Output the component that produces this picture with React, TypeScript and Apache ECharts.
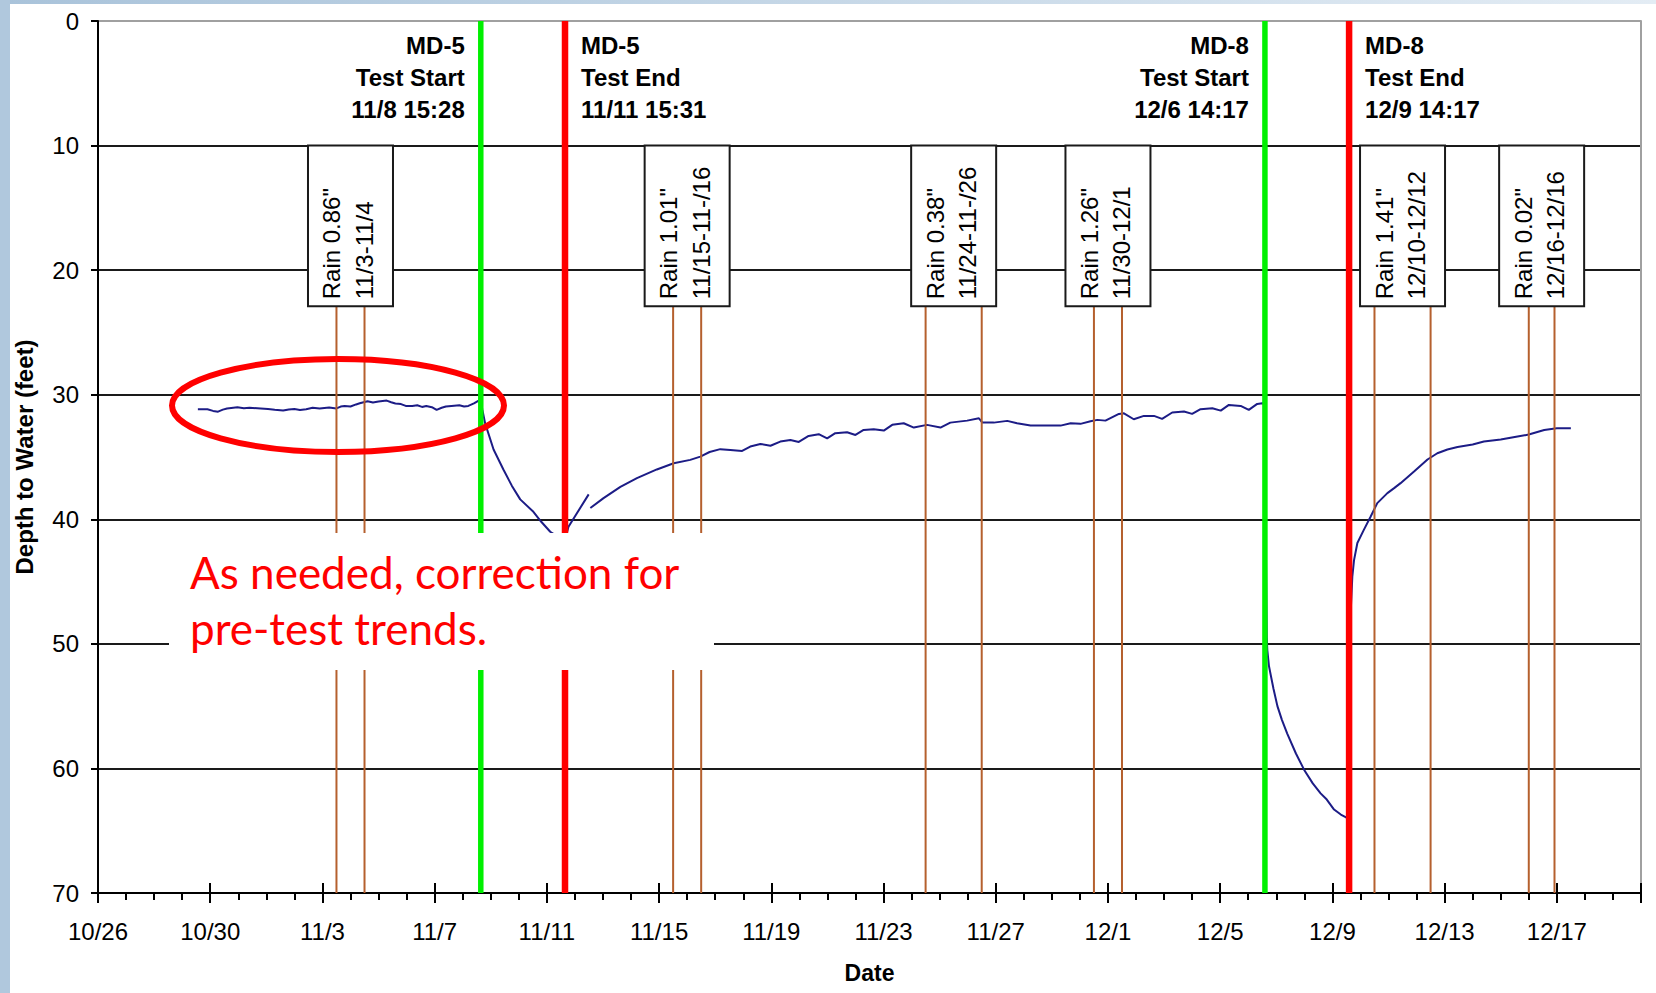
import React, { useEffect, useRef } from "react";
import * as echarts from "echarts";

// Hydrograph of depth to water during the MD-5 and MD-8 pumping tests.
// Time is expressed in days elapsed since 10/26 (midnight).

const START_UTC = Date.UTC(2010, 9, 26);
const toDay = (stamp: string): number => {
  const [md, hm = "0:00"] = stamp.split(" ");
  const [m, d] = md.split("/").map(Number);
  const [h, mi] = hm.split(":").map(Number);
  return (Date.UTC(2010, m - 1, d, h, mi) - START_UTC) / 86400000;
};
const dayLabel = (v: number): string => {
  const dt = new Date(START_UTC + Math.round(v) * 86400000);
  return `${dt.getUTCMonth() + 1}/${dt.getUTCDate()}`;
};

// Axis ranges
const DAY_MIN = 0; // 10/26
const DAY_MAX = 55; // 12/20
const DAY_TICK = 4;
const DEPTH_MIN = 0;
const DEPTH_MAX = 70;
const DEPTH_TICK = 10;

// Rain annotation box spans these depths
const RAIN_BOX_TOP = 10;
const RAIN_BOX_BOTTOM = 22.9;

// Background (pre-test) readings before MD-5 pumping
const md5Background: [number, number][] = [
  [3.56, 31.17], [3.9, 31.17], [4.1, 31.3], [4.28, 31.36], [4.45, 31.2], [4.6, 31.1],
  [4.97, 31.01], [5.2, 31.08], [5.4, 31.05], [5.8, 31.1], [6.06, 31.14], [6.3, 31.2],
  [6.6, 31.27], [6.8, 31.18], [7.0, 31.15], [7.2, 31.22], [7.42, 31.17], [7.65, 31.05],
  [7.9, 31.1], [8.24, 31.03], [8.5, 31.1], [8.65, 30.95], [8.79, 30.9], [9.0, 30.95],
  [9.2, 30.78], [9.33, 30.69], [9.61, 30.52], [9.8, 30.62], [10.0, 30.55], [10.29, 30.47],
  [10.45, 30.6], [10.6, 30.7], [10.8, 30.75], [10.97, 30.9], [11.2, 30.9], [11.38, 30.85],
  [11.55, 30.98], [11.7, 30.9], [11.9, 31.0], [12.07, 31.22], [12.25, 31.05], [12.4, 30.95],
  [12.6, 30.9], [12.88, 30.85], [13.05, 30.95], [13.2, 30.9], [13.4, 30.7], [13.57, 30.47],
  [13.64, 30.45],
];

// Drawdown while MD-5 was pumped
const md5Drawdown: [number, number][] = [
  [13.7, 31.2], [13.8, 32.3], [14.1, 34.4], [14.45, 36.0], [14.75, 37.3],
  [15.05, 38.4], [15.52, 39.4], [15.8, 40.2], [16.12, 41.0], [16.4, 41.4],
  [16.64, 41.7],
];

// Recovery after MD-5 test end (logger restarted at 11/12)
const md5Recovery: [number, number | null][] = [
  [16.77, 40.6], [17.49, 38.0], [17.52, null],
  [17.55, 39.1], [18.02, 38.3], [18.62, 37.4], [19.21, 36.7], [19.92, 36.0],
  [20.52, 35.5], [21.11, 35.23], [21.47, 34.97], [21.8, 34.6], [22.18, 34.37],
  [22.54, 34.43], [22.96, 34.51], [23.25, 34.16], [23.61, 33.95], [23.97, 34.1],
  [24.32, 33.76], [24.68, 33.63], [24.98, 33.79], [25.33, 33.31], [25.69, 33.17],
  [25.99, 33.5], [26.28, 33.09], [26.7, 33.01], [27.0, 33.23], [27.29, 32.83],
  [27.65, 32.77], [28.01, 32.88], [28.31, 32.42], [28.72, 32.29], [29.08, 32.64],
  [29.55, 32.42], [30.03, 32.64], [30.38, 32.24], [30.98, 32.08], [31.4, 31.89],
  [31.52, 32.24], [31.93, 32.24], [32.41, 32.1], [32.76, 32.29], [33.24, 32.48],
  [33.83, 32.48], [34.31, 32.48], [34.67, 32.29], [35.02, 32.34], [35.38, 32.13],
  [35.62, 32.02], [35.91, 32.08], [36.39, 31.54], [36.57, 31.49], [36.92, 31.97],
  [37.28, 31.7], [37.64, 31.7], [37.93, 31.94], [38.29, 31.43], [38.71, 31.35],
  [39.0, 31.54], [39.3, 31.16], [39.72, 31.08], [40.02, 31.28], [40.31, 30.82],
  [40.73, 30.9], [41.02, 31.22], [41.32, 30.74], [41.5, 30.68], [41.6, 30.7],
];

// Drawdown while MD-8 was pumped
const md8Drawdown: [number, number][] = [
  [41.62, 40.0], [41.66, 49.5], [41.68, 50.5], [41.74, 51.8], [41.9, 53.6],
  [42.04, 55.0], [42.2, 56.1], [42.39, 57.2], [42.7, 58.8], [42.99, 60.1],
  [43.3, 61.2], [43.58, 62.0], [43.8, 62.5], [44.06, 63.3], [44.3, 63.7],
  [44.47, 63.9], [44.55, 64.0],
];

// Recovery after MD-8 test end
const md8Recovery: [number, number][] = [
  [44.64, 48.0], [44.71, 44.6], [44.77, 43.3], [44.89, 41.9], [45.12, 40.85],
  [45.36, 39.8], [45.6, 38.7], [45.96, 37.9], [46.2, 37.5], [46.43, 37.1],
  [46.91, 36.17], [47.39, 35.2], [47.74, 34.7], [48.1, 34.4], [48.46, 34.2],
  [49.0, 34.0], [49.4, 33.76], [50.0, 33.6], [50.6, 33.36], [51.0, 33.2],
  [51.55, 32.83], [52.0, 32.7], [52.5, 32.69],
];

// Pumping test start / end markers
const testEvents = [
  { well: "MD-5", kind: "Test Start", stamp: "11/8 15:28" },
  { well: "MD-5", kind: "Test End", stamp: "11/11 15:31" },
  { well: "MD-8", kind: "Test Start", stamp: "12/6 14:17" },
  { well: "MD-8", kind: "Test End", stamp: "12/9 14:17" },
];

// Rain events: total inches and the period the rain fell
const rainEvents = [
  { inches: "0.86", range: "11/3-11/4", from: "11/3 12:00", to: "11/4 12:00" },
  { inches: "1.01", range: "11/15-11-/16", from: "11/15 12:00", to: "11/16 12:00" },
  { inches: "0.38", range: "11/24-11-/26", from: "11/24 12:00", to: "11/26 12:00" },
  { inches: "1.26", range: "11/30-12/1", from: "11/30 12:00", to: "12/1 12:00" },
  { inches: "1.41", range: "12/10-12/12", from: "12/10 12:00", to: "12/12 12:00" },
  { inches: "0.02", range: "12/16-12/16", from: "12/16 0:00", to: "12/16 22:00" },
];

const noteLines = ["As needed, correction for", "pre-test trends."];

const FONT = '"Liberation Sans", Arial, sans-serif';
const NOTE_FONT = '44px Lato, "Open Sans", sans-serif';
const GREEN = "#00f000";
const RED = "#ff0000";
const BROWN = "#b5602e";
const GRID_BLACK = "#1a1a1a";

export default function App() {
  const ref = useRef<HTMLDivElement>(null);

  useEffect(() => {
    if (!ref.current) return;
    const chart = echarts.init(ref.current, undefined, { renderer: "svg" });

    const hydrograph = [
      ...md5Background,
      ...md5Drawdown,
      ...md5Recovery,
      ...md8Drawdown,
      ...md8Recovery,
    ];

    const depthTickCount = (DEPTH_MAX - DEPTH_MIN) / DEPTH_TICK + 1;
    const splitColors = Array.from({ length: depthTickCount }, (_, i) =>
      i === 0 ? "#a0a0a0" : GRID_BLACK
    );

    const xBase = {
      type: "value" as const,
      min: DAY_MIN,
      max: DAY_MAX,
      interval: DAY_TICK,
      position: "bottom" as const,
      splitLine: { show: false },
    };

    chart.setOption({
      animation: false,
      textStyle: { fontFamily: FONT },
      grid: { left: 98, top: 21, right: 15, bottom: 100, containLabel: false },
      xAxis: [
        {
          ...xBase,
          name: "Date",
          nameLocation: "middle",
          nameGap: 68,
          nameTextStyle: { fontSize: 23, fontWeight: "bold", color: "#000", fontFamily: FONT },
          axisLine: { onZero: false, lineStyle: { color: "#000", width: 2 } },
          axisTick: { show: true, length: 10, lineStyle: { color: "#000", width: 2 } },
          minorTick: { show: true, splitNumber: 4, length: 7, lineStyle: { color: "#000", width: 2 } },
          axisLabel: {
            fontSize: 24,
            color: "#000",
            margin: 26,
            fontFamily: FONT,
            formatter: (v: number) => dayLabel(v),
            showMaxLabel: false,
          },
        },
        {
          ...xBase,
          axisLine: { show: false, onZero: false },
          axisTick: { show: true, inside: true, length: 10, lineStyle: { color: "#000", width: 2 } },
          axisLabel: { show: false },
        },
      ],
      yAxis: [
        {
          type: "value",
          min: DEPTH_MIN,
          max: DEPTH_MAX,
          interval: DEPTH_TICK,
          inverse: true,
          name: "Depth to Water (feet)",
          nameLocation: "middle",
          nameGap: 62,
          nameTextStyle: { fontSize: 24, fontWeight: "bold", color: "#000", fontFamily: FONT },
          axisLine: { show: true, onZero: false, lineStyle: { color: "#000", width: 2 } },
          axisTick: { show: true, length: 7, lineStyle: { color: "#000", width: 2 } },
          axisLabel: { fontSize: 24, color: "#000", margin: 19, fontFamily: FONT },
          splitLine: { show: true, lineStyle: { color: splitColors, width: 2 } },
        },
        {
          type: "value",
          min: DEPTH_MIN,
          max: DEPTH_MAX,
          interval: DEPTH_TICK,
          inverse: true,
          position: "right",
          axisLine: { show: true, onZero: false, lineStyle: { color: "#a0a0a0", width: 2 } },
          axisTick: { show: false },
          axisLabel: { show: false },
          splitLine: { show: false },
        },
      ],
      series: [
        {
          name: "Depth to Water",
          type: "line",
          xAxisIndex: 0,
          yAxisIndex: 0,
          data: hydrograph,
          showSymbol: false,
          connectNulls: false,
          lineStyle: { color: "#1c1c86", width: 2 },
          z: 2,
        },
        {
          name: "Rain",
          type: "custom",
          xAxisIndex: 0,
          yAxisIndex: 0,
          z: 3,
          data: rainEvents.map((e) => [(toDay(e.from) + toDay(e.to)) / 2, RAIN_BOX_TOP]),
          renderItem: (params: any, api: any) => {
            const ev = rainEvents[params.dataIndex];
            const from = toDay(ev.from);
            const to = toDay(ev.to);
            const mid = (from + to) / 2;
            const [cx, yTop] = api.coord([mid, RAIN_BOX_TOP]);
            const yBot = api.coord([mid, RAIN_BOX_BOTTOM])[1];
            const yEnd = api.coord([mid, DEPTH_MAX])[1];
            const x1 = api.coord([from, DEPTH_MAX])[0];
            const x2 = api.coord([to, DEPTH_MAX])[0];
            const font = `24px ${FONT}`;
            return {
              type: "group",
              children: [
                { type: "line", shape: { x1, y1: yBot, x2: x1, y2: yEnd }, style: { stroke: BROWN, lineWidth: 2 } },
                { type: "line", shape: { x1: x2, y1: yBot, x2, y2: yEnd }, style: { stroke: BROWN, lineWidth: 2 } },
                {
                  type: "rect",
                  shape: { x: cx - 42.5, y: yTop, width: 85, height: yBot - yTop },
                  style: { fill: "#fff", stroke: GRID_BLACK, lineWidth: 2 },
                },
                {
                  type: "text",
                  x: cx - 18.5,
                  y: yBot - 7,
                  rotation: Math.PI / 2,
                  style: { text: `Rain ${ev.inches}"`, align: "left", verticalAlign: "middle", font, fill: "#000" },
                },
                {
                  type: "text",
                  x: cx + 14,
                  y: yBot - 7,
                  rotation: Math.PI / 2,
                  style: { text: ev.range, align: "left", verticalAlign: "middle", font, fill: "#000" },
                },
              ],
            };
          },
        },
        {
          name: "Tests",
          type: "custom",
          xAxisIndex: 0,
          yAxisIndex: 0,
          z: 4,
          data: testEvents.map((e) => [toDay(e.stamp), DEPTH_MIN]),
          renderItem: (params: any, api: any) => {
            const ev = testEvents[params.dataIndex];
            const d = toDay(ev.stamp);
            const [x, y0] = api.coord([d, DEPTH_MIN]);
            const y1 = api.coord([d, DEPTH_MAX])[1];
            const isStart = ev.kind === "Test Start";
            return {
              type: "group",
              children: [
                {
                  type: "line",
                  shape: { x1: x, y1: y0, x2: x, y2: y1 },
                  style: { stroke: isStart ? GREEN : RED, lineWidth: isStart ? 5.5 : 6.5 },
                },
                {
                  type: "text",
                  x: isStart ? x - 16 : x + 16,
                  y: y0 + 8,
                  style: {
                    text: `${ev.well}\n${ev.kind}\n${ev.stamp}`,
                    align: isStart ? "right" : "left",
                    verticalAlign: "top",
                    lineHeight: 32,
                    font: `bold 24px ${FONT}`,
                    fill: "#000",
                  },
                },
              ],
            };
          },
        },
      ],
      graphic: [
        {
          type: "rect",
          z: 0,
          shape: { x: 0, y: 0, width: 1656, height: 4 },
          style: {
            fill: new echarts.graphic.LinearGradient(0, 0, 1, 0, [
              { offset: 0, color: "#a9c3da" },
              { offset: 1, color: "#e3ecf4" },
            ]),
          },
        },
        {
          type: "rect",
          z: 0,
          shape: { x: 0, y: 0, width: 10, height: 993 },
          style: { fill: "#b0c8dd" },
        },
        {
          type: "ellipse",
          z: 100,
          shape: { cx: 338, cy: 405.5, rx: 166, ry: 46.5 },
          style: { fill: "none", stroke: RED, lineWidth: 6 },
        },
        {
          type: "rect",
          z: 100,
          shape: { x: 169, y: 533, width: 545, height: 137 },
          style: { fill: "#ffffff" },
        },
        {
          type: "text",
          z: 101,
          x: 190,
          y: 572,
          style: { text: noteLines[0], font: NOTE_FONT, fill: RED, verticalAlign: "middle" },
        },
        {
          type: "text",
          z: 101,
          x: 190,
          y: 628,
          style: { text: noteLines[1], font: NOTE_FONT, fill: RED, verticalAlign: "middle" },
        },
      ],
    });

    return () => chart.dispose();
  }, []);

  return (
    <div
      ref={ref}
      style={{ position: "absolute", left: 0, top: 0, width: 1656, height: 993, background: "#fff" }}
    />
  );
}
